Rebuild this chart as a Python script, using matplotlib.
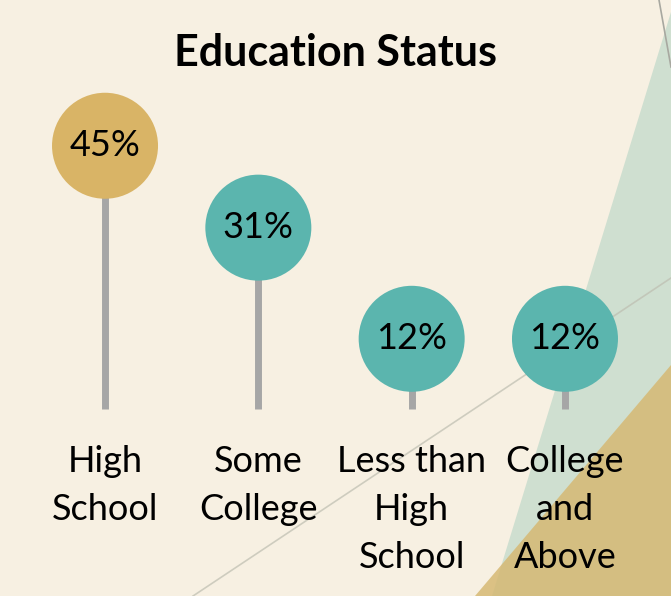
import matplotlib.pyplot as plt
from matplotlib.patches import Polygon

categories = ["High\nSchool", "Some\nCollege", "Less than\nHigh\nSchool", "College\nand\nAbove"]
values = [45, 31, 12, 12]
labels = ["45%", "31%", "12%", "12%"]
dot_colors = ["#D9B466", "#5BB5AE", "#5BB5AE", "#5BB5AE"]

BG = "#F7F0E2"
plt.rcParams["font.family"] = ["Lato", "DejaVu Sans"]

W, H = 671, 596
fig = plt.figure(figsize=(W / 100, H / 100), dpi=100, facecolor=BG)

# decorative background in pixel coordinates
bg = fig.add_axes([0, 0, 1, 1], zorder=0)
bg.set_xlim(0, W)
bg.set_ylim(H, 0)
bg.axis("off")
bg.set_facecolor(BG)
bg.add_patch(Polygon([(671, 12), (492, 596), (671, 596)], closed=True, color="#CFDFD0", lw=0))
bg.add_patch(Polygon([(671, 365), (475, 596), (671, 596)], closed=True, color="#D6B974", alpha=0.85, lw=0))
bg.plot([671, 193], [278, 596], color="#BDBDB0", lw=1.2, alpha=0.7)
bg.plot([659, 671], [0, 67], color="#A8A8A0", lw=1.2)

ax = fig.add_axes([0, 0, 1, 1], zorder=1)
ax.patch.set_alpha(0)
ax.axis("off")
px_x = 153.3
px_y = 5.85
ax.set_xlim(-105 / px_x, 3 + (W - 565) / px_x)
ax.set_ylim(-187 / px_y, (H - 187) / px_y)

xs = list(range(len(values)))
ax.vlines(xs, 0, values, colors="#A6A6A6", lw=5, zorder=2)
ax.scatter(xs, values, s=(106 * 0.72) ** 2, c=dot_colors, zorder=3, linewidths=0)
for x, v, lab in zip(xs, values, labels):
    ax.text(x, v, lab, ha="center", va="center", fontsize=26, color="black", zorder=4)
for x, cat in zip(xs, categories):
    ax.annotate(cat, (x, 0), xytext=(0, -26), textcoords="offset points",
                ha="center", va="top", fontsize=26, linespacing=1.56)

fig.text(335 / W, 1 - 53 / H, "Education Status", ha="center", va="center",
         fontsize=31, fontweight="bold")

fig.savefig("out.png", dpi=100, facecolor=BG)
